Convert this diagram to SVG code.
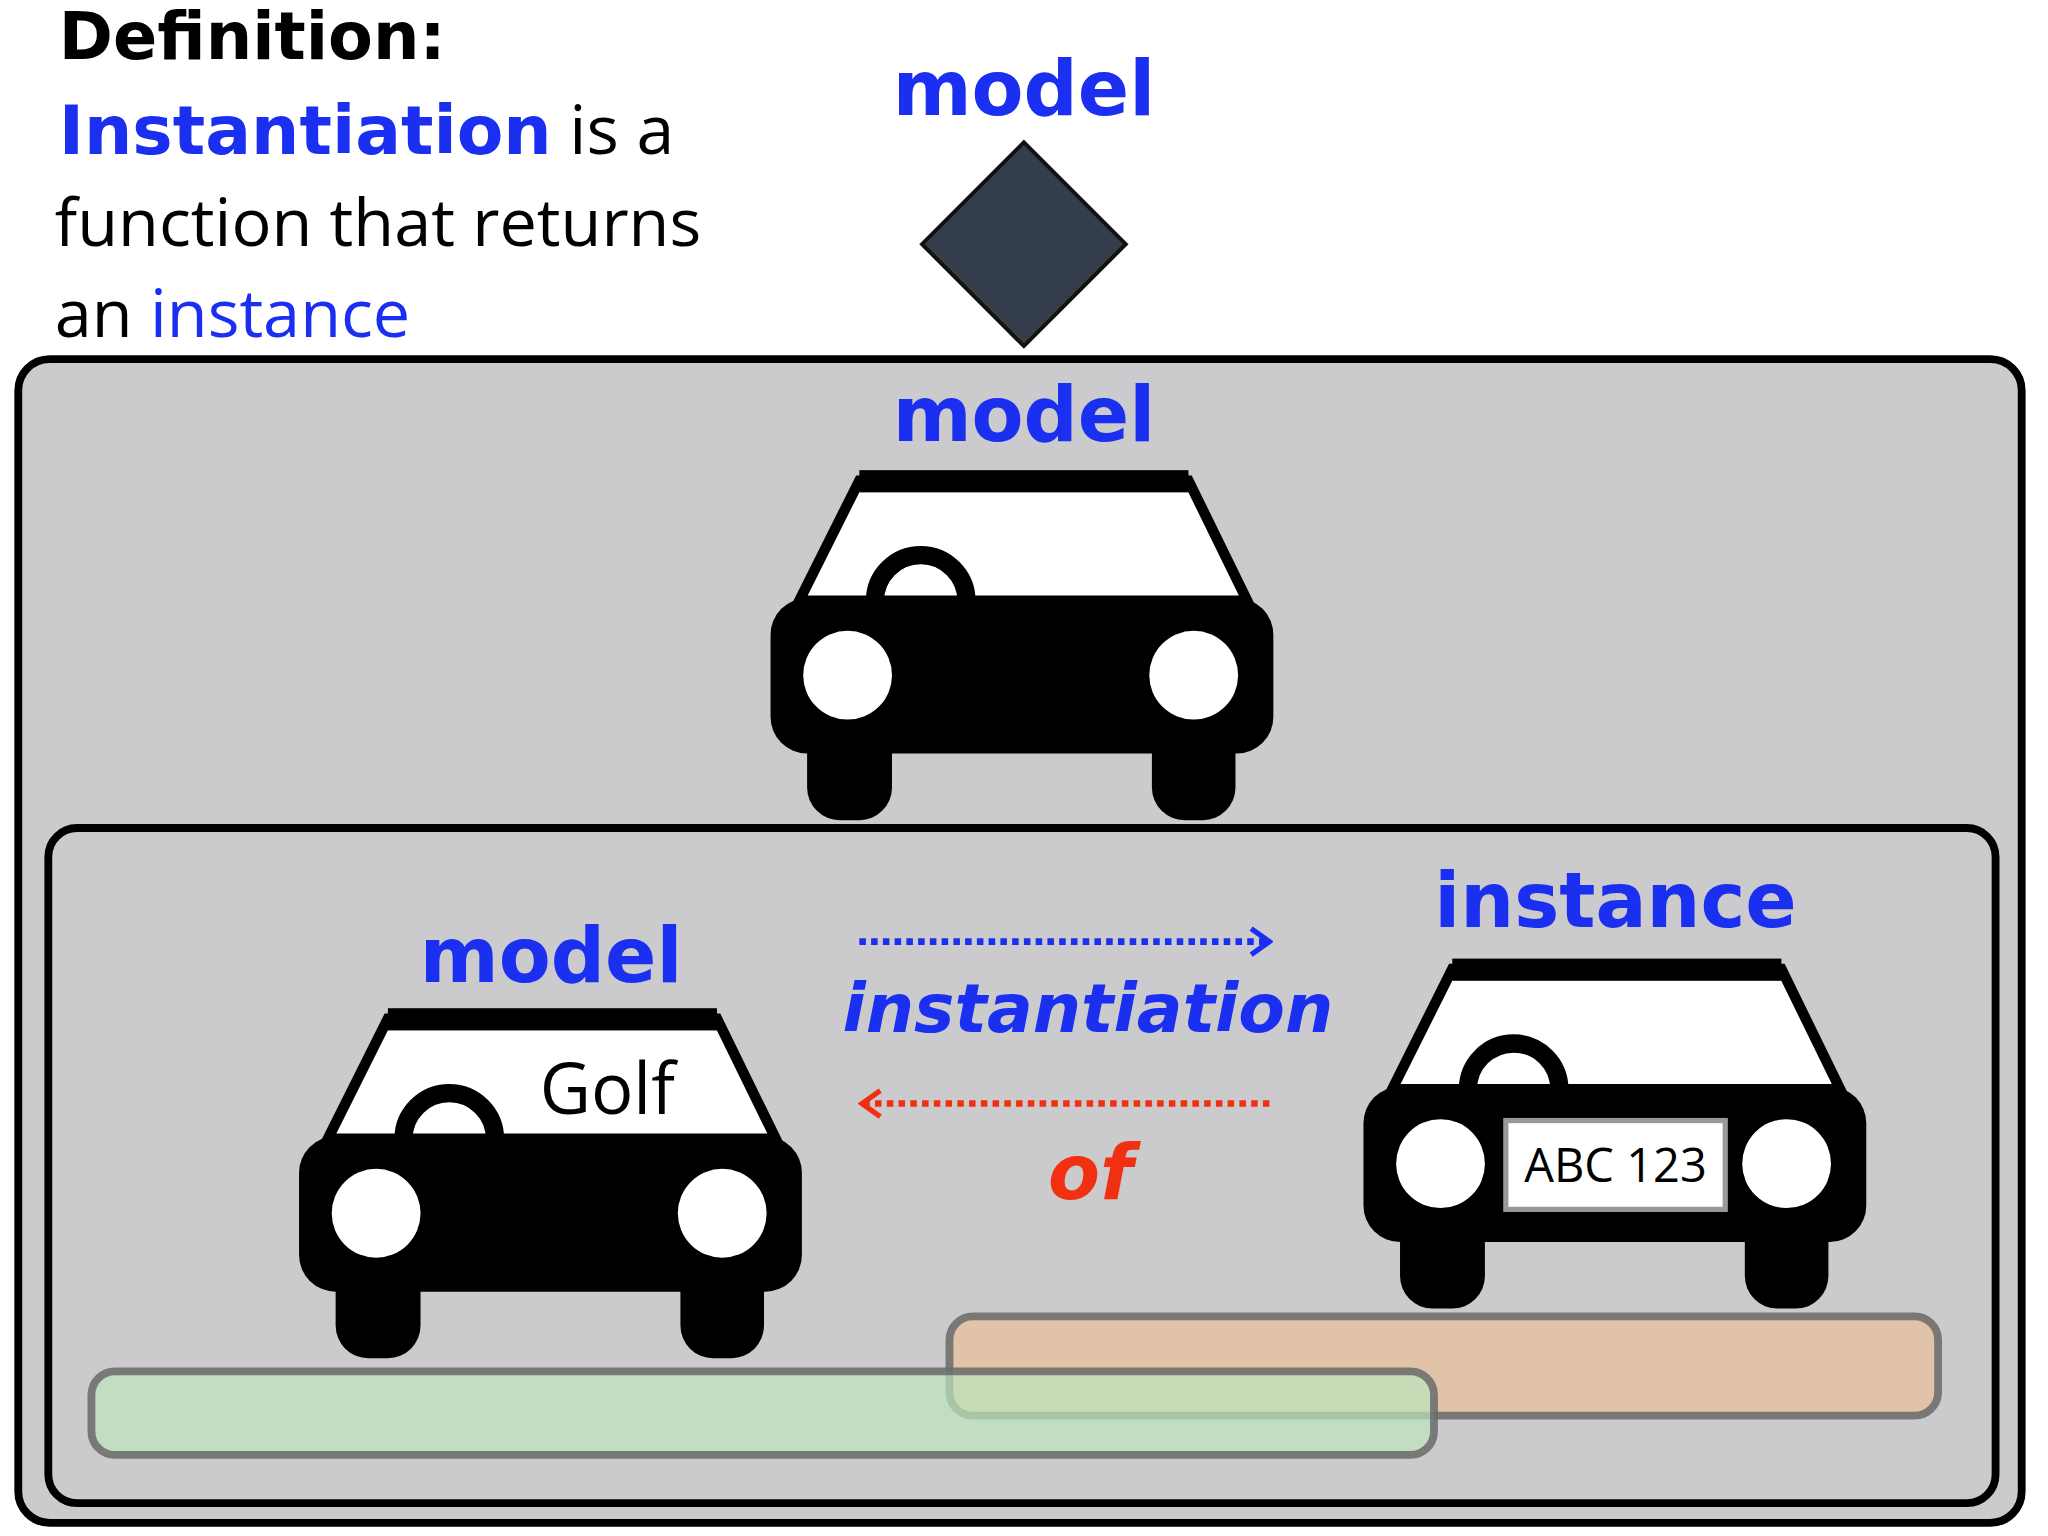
<svg xmlns="http://www.w3.org/2000/svg" width="2048" height="1536" viewBox="0 0 2048 1536">
<style>
.lbl{font-family:"DejaVu Sans",sans-serif;font-weight:bold;fill:#1a2ff0;text-anchor:middle}
.gs{font-family:"Open Sans","Liberation Sans",sans-serif}
</style>
<defs>
<g id="car">
<polygon points="68,8 320,8 365,100 22,100" fill="#fff" stroke="#000" stroke-width="8"/>
<rect x="68" y="0" width="252" height="17" fill="#000"/>
<path d="M80,100 A35,35 0 0 1 150,100" fill="none" stroke="#000" stroke-width="14"/>
<rect x="28" y="180" width="65" height="88" rx="25" fill="#000"/>
<rect x="292" y="180" width="64" height="88" rx="25" fill="#000"/>
<rect x="0" y="98" width="385" height="119" rx="28" fill="#000"/>
<circle cx="59" cy="157" r="34" fill="#fff"/>
<circle cx="324" cy="157" r="34" fill="#fff"/>
</g>
<marker id="ab" markerWidth="20" markerHeight="26" refX="17" refY="13" orient="auto" markerUnits="userSpaceOnUse"><path d="M3,3 L17,13 L3,23" fill="none" stroke="#1a2ff0" stroke-width="4"/></marker>
<marker id="ar" markerWidth="20" markerHeight="26" refX="17" refY="13" orient="auto" markerUnits="userSpaceOnUse"><path d="M3,3 L17,13 L3,23" fill="none" stroke="#f03010" stroke-width="4"/></marker>
</defs>
<rect width="2048" height="1536" fill="#fff"/>
<g transform="scale(1.306)">
<g id="defn">
<text x="45" y="45" font-family="DejaVu Sans,sans-serif" font-weight="bold" font-size="50">Definition:</text>
<text x="45" y="118" class="gs" font-size="52"><tspan font-family="DejaVu Sans,sans-serif" font-weight="bold" fill="#1a2ff0">Instantiation</tspan> is a</text>
<text x="42" y="188" class="gs" font-size="51">function that returns</text>
<text x="42" y="258" class="gs" font-size="51">an <tspan fill="#1a2ff0">instance</tspan></text>
</g>
<g id="metamodel">
<text x="784" y="88" class="lbl" font-size="58">model</text>
<polygon points="784,109 862,187 784,265 706,187" fill="#343e4b" stroke="#111" stroke-width="3"/>
</g>
<g id="outer">
<rect x="14" y="275" width="1534" height="891" rx="24" fill="#cbcacd" stroke="#000" stroke-width="6"/>
<text x="784" y="338" class="lbl" font-size="58">model</text>
<use href="#car" transform="translate(590,360)"/>
</g>
<g id="inner">
<rect x="37" y="634" width="1491" height="517" rx="22" fill="#cbcacd" stroke="#000" stroke-width="6"/>
</g>
<g id="bars">
<rect x="727" y="1008" width="757" height="76" rx="18" fill="#e8c09a" fill-opacity="0.7" stroke="#6a6a6a" stroke-opacity="0.85" stroke-width="6"/>
<rect x="70" y="1050" width="1028" height="64" rx="18" fill="#bde6bd" fill-opacity="0.7" stroke="#6a6a6a" stroke-opacity="0.85" stroke-width="6"/>
</g>
<g id="model-car">
<text x="422" y="752" class="lbl" font-size="58">model</text>
<use href="#car" transform="translate(229,772)"/>
<text x="465" y="853" class="gs" font-size="54" text-anchor="middle">Golf</text>
</g>
<g id="instance-car">
<text x="1237" y="710" class="lbl" font-size="58">instance</text>
<use href="#car" transform="translate(1044,734)"/>
<rect x="1153" y="858" width="168" height="68" fill="#fff" stroke="#999" stroke-width="4"/>
<text x="1237" y="905" class="gs" font-size="36" text-anchor="middle">ABC 123</text>
</g>
<g id="connectors">
<line x1="658" y1="721" x2="972" y2="721" stroke="#1a2ff0" stroke-width="5" stroke-dasharray="5,4" marker-end="url(#ab)"/>
<text x="833" y="790" class="lbl" font-size="52" font-style="italic">instantiation</text>
<line x1="972" y1="845" x2="660" y2="845" stroke="#f03010" stroke-width="5" stroke-dasharray="5,4" marker-end="url(#ar)"/>
<text x="835" y="918" class="lbl" font-size="58" font-style="italic" style="fill:#f03010">of</text>
</g>
</g>
</svg>
